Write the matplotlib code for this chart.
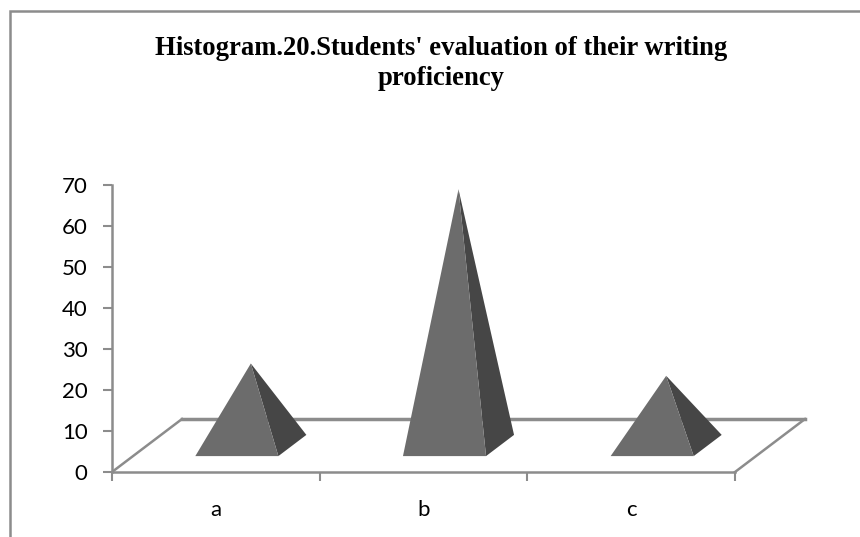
import matplotlib
matplotlib.use("Agg")
import matplotlib.pyplot as plt
from matplotlib.lines import Line2D
from matplotlib.patches import Polygon

categories = ["a", "b", "c"]
values = [20, 62.5, 17]
y_ticks = [0, 10, 20, 30, 40, 50, 60, 70]
title = "Histogram.20.Students' evaluation of their writing\nproficiency"

W, H = 860, 537
GRAY = "#8c8c8c"
FRONT = "#6c6c6c"
SIDE = "#464646"

fig = plt.figure(figsize=(W / 100, H / 100), dpi=100, facecolor="white")
# open frame of the source picture: only the top and left edges show
fig.add_artist(Line2D([9.5 / W, 9.5 / W, 1], [0, 1 - 10.5 / H, 1 - 10.5 / H], transform=fig.transFigure,
                      color=GRAY, linewidth=1.8, solid_joinstyle="miter"))
ax = fig.add_axes([112 / W, 1 - 472 / H, 623 / W, 287 / H])
ax.set_xlim(0, len(categories))
ax.set_ylim(0, 70)
ax.patch.set_alpha(0)

# oblique depth of the 3D floor, in data units
DX = 70 / (623 / 3)
DY = 53 / (287 / 70)


def floor(x, d, y=0.0):
    return (x + DX * d, y + DY * d)


# floor outline
n = len(categories)
ax.plot(*zip(floor(0, 0), floor(0, 1)), color=GRAY, lw=1.8, clip_on=False, zorder=1)
ax.plot(*zip(floor(n, 0), floor(n, 1)), color=GRAY, lw=1.8, clip_on=False, zorder=1)
ax.plot(*zip(floor(0, 1), floor(n, 1)), color=GRAY, lw=2.5, clip_on=False, zorder=1)

# pyramids
half = 0.2
for i, v in enumerate(values):
    cx = i + 0.5
    fl = floor(cx - half, 0.3)
    fr = floor(cx + half, 0.3)
    br = floor(cx + half, 0.7)
    apex = floor(cx, 0.5, v)
    ax.add_patch(Polygon([fr, br, apex], closed=True, facecolor=SIDE, edgecolor="none",
                         clip_on=False, zorder=2))
    ax.add_patch(Polygon([fl, fr, apex], closed=True, facecolor=FRONT, edgecolor="none",
                         clip_on=False, zorder=3))

for s in ("top", "right"):
    ax.spines[s].set_visible(False)
for s in ("left", "bottom"):
    ax.spines[s].set_color(GRAY)
    ax.spines[s].set_linewidth(1.8)

ax.set_yticks(y_ticks)
ax.set_xticks(range(n + 1))
ax.set_xticklabels([])
ax.set_xticks([i + 0.5 for i in range(n)], labels=categories, minor=True)
ax.tick_params(axis="both", which="major", color=GRAY, width=1.5, length=6.5)
ax.tick_params(axis="x", which="minor", length=0, pad=20, labelsize=16)
ax.tick_params(axis="y", labelsize=16, pad=11)
for lab in ax.get_yticklabels() + ax.get_xticklabels(minor=True):
    lab.set_family("Lato")
    lab.set_color("black")

fig.text(441 / W, 1 - 63.5 / H, title, ha="center", va="center", family="Liberation Serif",
         weight="bold", fontsize=19.2, linespacing=1.28)

fig.savefig("out.png", dpi=100)
